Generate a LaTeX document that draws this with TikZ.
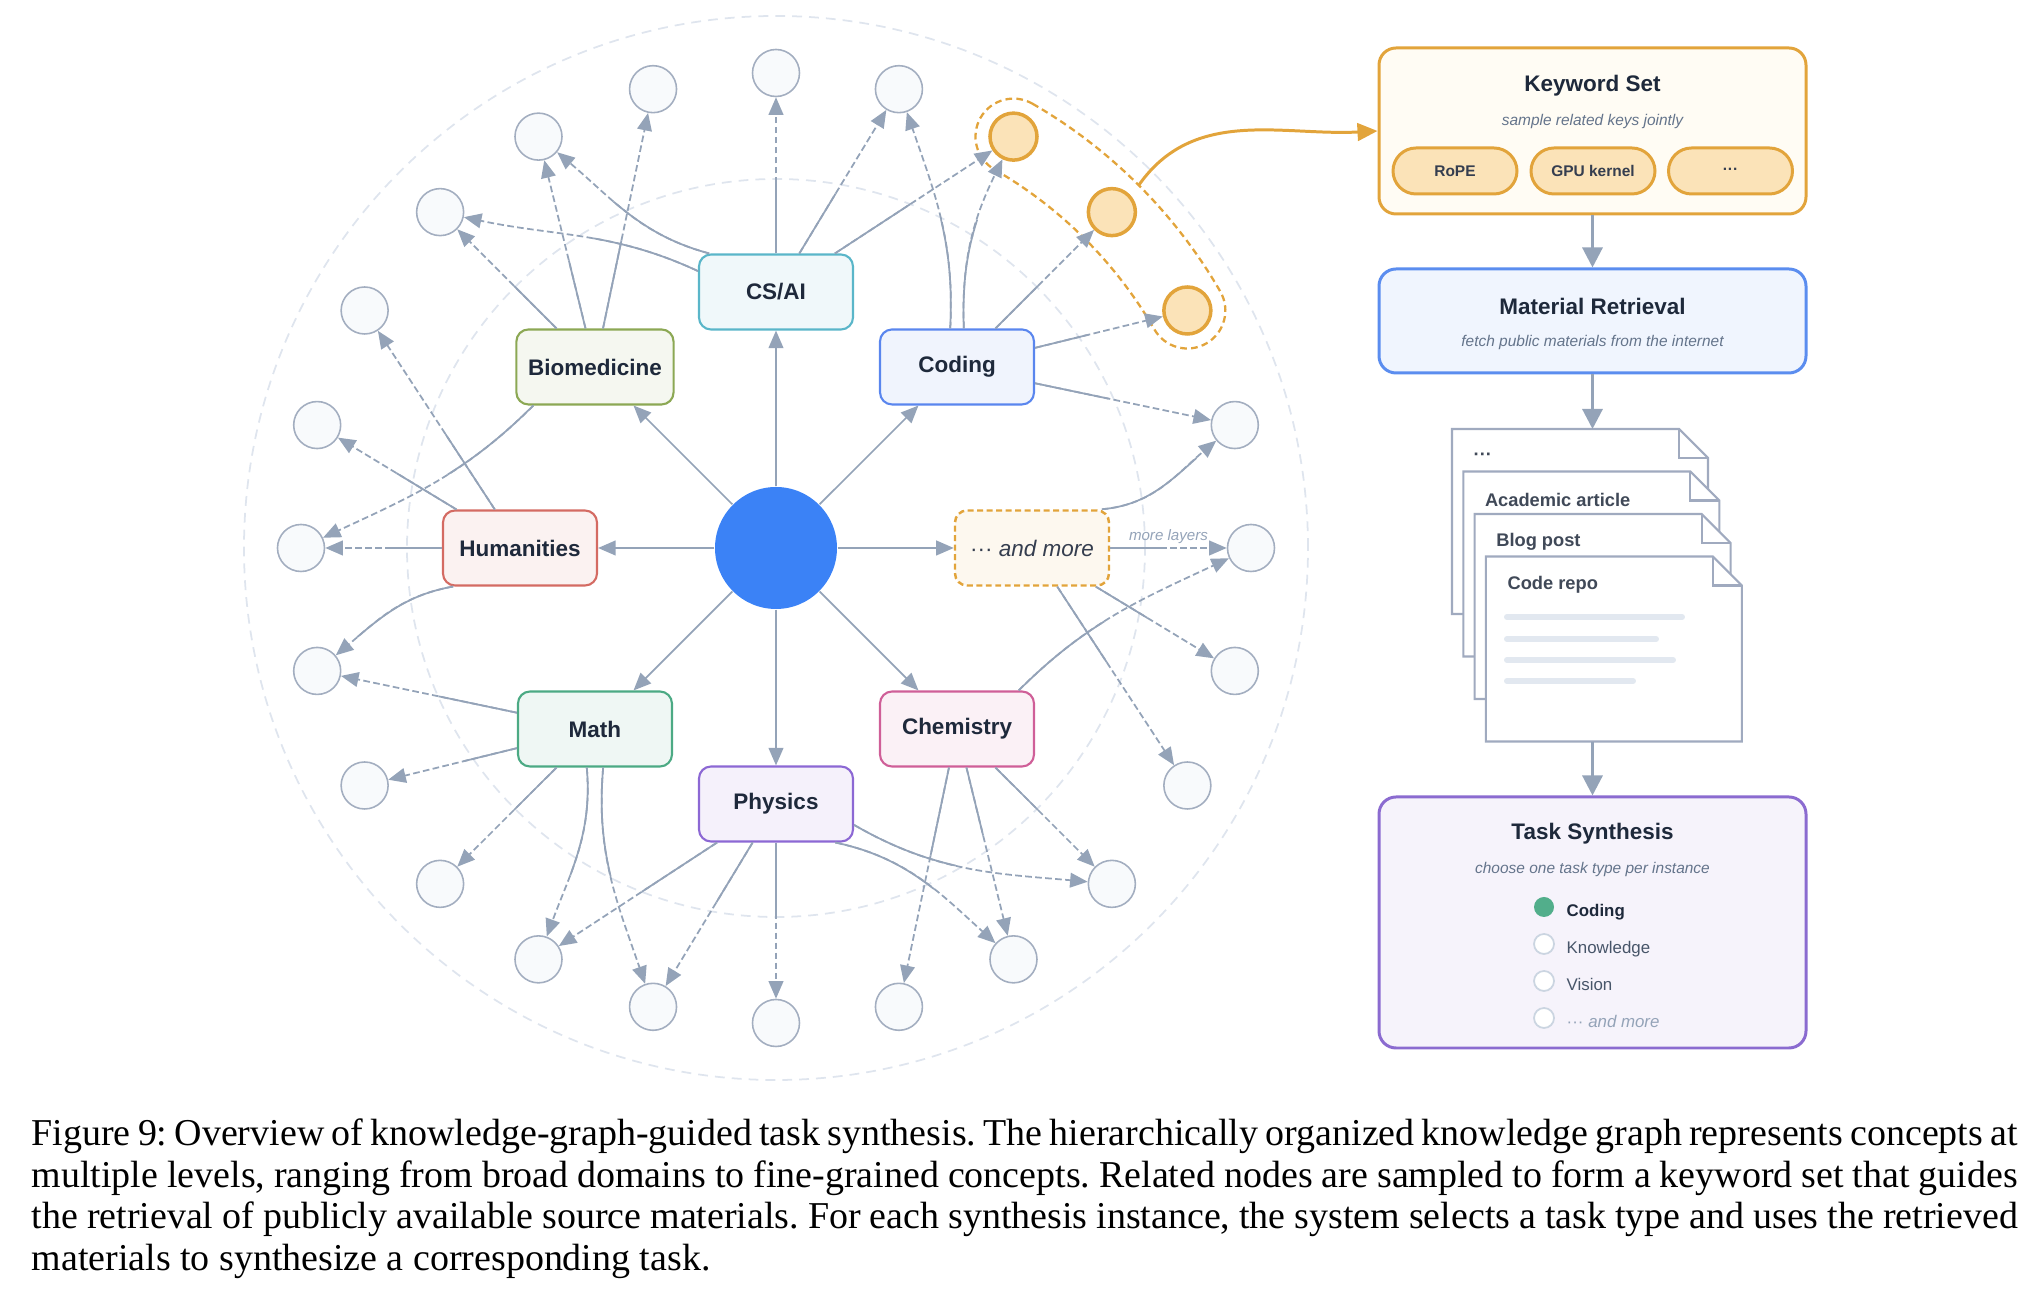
\documentclass[tikz,border=0pt]{standalone}
\usepackage{fontspec}
\setmainfont{Liberation Serif}
\setsansfont{Liberation Sans}
\usepackage{xcolor}
\usepackage{tikz}
\usetikzlibrary{calc, positioning, arrows.meta}
\definecolor{Ink}{HTML}{1E293B}
\definecolor{Slate}{HTML}{94A3B8}
\definecolor{SubGray}{HTML}{64748B}
\definecolor{LeafLine}{HTML}{A3AEC0}
\definecolor{LeafFill}{HTML}{F8FAFC}
\definecolor{Guide}{HTML}{DFE5EE}
\definecolor{HubBlue}{HTML}{3B82F6}
\definecolor{Amber}{HTML}{E2A43B}
\definecolor{AmberFill}{HTML}{FBE3B8}
\definecolor{Cream}{HTML}{FFFCF4}
\definecolor{CsCyan}{HTML}{5AB6C9}
\definecolor{BioOlive}{HTML}{8CA854}
\definecolor{CodeBlue}{HTML}{5A86EE}
\definecolor{HumRed}{HTML}{D46B63}
\definecolor{MathGreen}{HTML}{4CAA84}
\definecolor{ChemPink}{HTML}{CF5F98}
\definecolor{PhysViolet}{HTML}{8C68D4}
\definecolor{RetrBlue}{HTML}{5B8DEF}
\definecolor{TaskViolet}{HTML}{8B6BD0}
\definecolor{PageLine}{HTML}{A0AABF}
\definecolor{TextBar}{HTML}{E2E8F0}
\definecolor{CheckGreen}{HTML}{52AE8B}
\definecolor{RadioLine}{HTML}{CBD5E1}
\definecolor{OptGray}{HTML}{475569}
\frenchspacing

\begin{document}
\begin{tikzpicture}[
        guide/.style={draw=Guide, line width=0.5pt, dash pattern=on 2.8pt off 2pt},
        field/.style={draw=#1, fill=#1!9, line width=0.6pt, rounded corners=0.12cm,
                    minimum width=1.54cm, minimum height=0.75cm, text=Ink,
                    font=\sffamily\bfseries\fontsize{6.4}{7.7}\selectfont},
        leaf/.style={circle, draw=LeafLine, fill=LeafFill, line width=0.45pt, minimum size=0.47cm, inner sep=0pt},
        hotleaf/.style={leaf, draw=Amber, fill=AmberFill, line width=1pt},
        trunk/.style={draw=Slate, line width=0.5pt, -{Triangle[length=5pt, width=4.2pt]}},
        link/.style={trunk, dash pattern=on 1.9pt off 0.95pt,
                    postaction={draw=Slate, -, dash pattern=on #1 off 40cm}},
        link/.default=0.7cm,
        layerlbl/.style={above, inner sep=1pt, text=Slate, font=\sffamily\itshape\fontsize{4.3}{5}\selectfont},
        capsule/.style={draw=Amber, line width=0.65pt, dash pattern=on 1.9pt off 1.2pt},
        pick/.style={draw=Amber, line width=0.85pt, -{Triangle[length=5.7pt, width=5pt]}},
        panel/.style={draw=#1, line width=0.85pt, rounded corners=0.17cm, minimum width=4.27cm},
        ptitle/.style={inner sep=0pt, text=Ink, font=\sffamily\bfseries\fontsize{6.4}{7.7}\selectfont},
        psub/.style={inner sep=0pt, text=SubGray, font=\sffamily\itshape\fontsize{4.4}{5.3}\selectfont},
        pill/.style={draw=Amber, fill=AmberFill, line width=0.85pt, rounded corners=0.23cm,
                    minimum width=1.24cm, minimum height=0.46cm, text=Ink!90,
                    font=\sffamily\bfseries\fontsize{4.4}{5.3}\selectfont},
        flow/.style={draw=Slate, line width=0.9pt, -{Triangle[length=5.7pt, width=5.7pt]}},
        sheet/.style={draw=PageLine, fill=white, line width=0.6pt},
        doctext/.style={anchor=west, inner sep=0pt, text=Ink!85, font=\sffamily\bfseries\fontsize{5.2}{6.2}\selectfont},
        textbar/.style={draw=TextBar, line width=1.7pt, line cap=round},
        radio/.style={circle, draw=RadioLine, fill=white, line width=0.5pt, minimum size=0.2cm, inner sep=0pt},
        opt/.style={anchor=west, inner sep=0pt, text height=1.6ex, text depth=0.4ex, text=OptGray,
                    font=\sffamily\fontsize{4.8}{5.8}\selectfont},
        captext/.style={text width=19.86cm, align=justify, inner sep=0pt, font=\fontsize{10.8}{11.84}\selectfont}]
        \useasboundingbox (-7.76,-7.46) rectangle (12.62,5.48);

        \draw[guide] (0,0) circle[radius=5.32];
        \draw[guide] (0,0) circle[radius=3.69];

        \node[circle, fill=HubBlue, minimum size=1.22cm, inner sep=0pt] (hub) at (0,0) {};
        \node[field=CsCyan]     (csai)   at (90:2.56)  {CS/AI};
        \node[field=BioOlive]   (bio)    at (135:2.56) {Biomedicine};
        \node[field=CodeBlue]   (coding) at (45:2.56)  {Coding};
        \node[field=HumRed]     (hum)    at (180:2.56) {Humanities};
        \node[field=MathGreen]  (math)   at (225:2.56) {Math};
        \node[field=ChemPink]   (chem)   at (315:2.56) {Chemistry};
        \node[field=PhysViolet] (phys)   at (270:2.56) {Physics};
        \node[field=Amber, fill=Amber!8, dash pattern=on 1.7pt off 1pt, line width=0.7pt,
              font=\sffamily\fontsize{6.4}{7.7}\selectfont, text=Ink!90] (more) at (0:2.56)
              {··· \itshape and more};

        \foreach \a in {0,15,75,90,...,345}
          \node[leaf] (l\a) at (\a:4.75) {};
        \foreach \a in {30,45,60}
          \node[hotleaf] (l\a) at (\a:4.75) {};

        \draw[capsule] (60:5.13) arc[start angle=60, end angle=30, radius=5.13]
              arc[start angle=30, end angle=-150, radius=0.38]
              arc[start angle=30, end angle=60, radius=4.37]
              arc[start angle=-120, end angle=-300, radius=0.38] -- cycle;

        \foreach \d in {csai, bio, coding, hum, more, math, chem, phys}
          \draw[trunk] (hub) -- (\d);

        \draw[link] (csai) -- (l90);
        \draw[link] (csai) -- (l75);
        \draw[link=0.9cm] (csai) -- (l60);
        \draw[link=1.1cm] (csai.165) to[out=155, in=-12] (l135);
        \draw[link=1.1cm] (csai.150) to[out=165, in=-40] (l120);

        \draw[link=0.6cm] (bio) -- (l135);
        \draw[link] (bio) -- (l120);
        \draw[link=0.9cm] (bio) -- (l105);
        \draw[link=1.1cm] (bio.212) to[out=225, in=25] (l180);

        \draw[link=0.5cm] (hum) -- (l180);
        \draw[link] (hum) -- (l165);
        \draw[link=0.9cm] (hum) -- (l150);
        \draw[link=1.1cm] (hum.210) to[out=190, in=40] (l195);

        \draw[link=0.8cm] (math) -- (l195);
        \draw[link=0.55cm] (math) -- (l210);
        \draw[link=0.6cm] (math) -- (l225);
        \draw[link=1.1cm] (math.258) to[out=-85, in=70] (l240);
        \draw[link=1.1cm] (math.282) to[out=-95, in=109] (l255);

        \draw[link] (phys) -- (l270);
        \draw[link] (phys) -- (l255);
        \draw[link=0.9cm] (phys) -- (l240);
        \draw[link=1.1cm] (phys.-15) to[out=-30, in=175] (l315);
        \draw[link=1.1cm] (phys.-33) to[out=-12, in=138] (l300);

        \draw[link=0.9cm] (chem) -- (l285);
        \draw[link] (chem) -- (l300);
        \draw[link=0.6cm] (chem) -- (l315);
        \draw[link=1.1cm] (chem.32) to[out=45, in=205] (l0);

        \draw[link=0.5cm] (more) -- node[layerlbl] {more layers} (l0);
        \draw[link=1.1cm] (more.29) to[out=5, in=220] (l15);
        \draw[link=0.6cm] (more) -- (l345);
        \draw[link=0.9cm] (more) -- (l330);

        \draw[link=1.1cm] (coding.100) to[out=87, in=-71] (l75);
        \draw[link=1.1cm] (coding.80) to[out=92, in=-116] (l60);
        \draw[link=0.6cm] (coding) -- (l45);
        \draw[link=0.55cm] (coding) -- (l30);
        \draw[link=0.75cm] (coding) -- (l15);

        \node[panel=Amber, fill=Cream, minimum height=1.66cm] (kw) at (8.165,4.17) {};
        \node[ptitle] (kw-title) at (8.165,4.62) {Keyword Set};
        \node[psub]   (kw-sub)   at (8.165,4.26) {sample related keys jointly};
        \node[pill] (rope) at (6.79,3.77)  {RoPE};
        \node[pill] (gpu)  at (8.17,3.77)  {GPU kernel};
        \node[pill] (etc)  at (9.545,3.77) {···};

        \coordinate (pickup) at (45:5.13);
        \draw[pick] (pickup) to[out=55, in=183] (kw.west);

        \node[panel=RetrBlue, fill=RetrBlue!9, minimum height=1.04cm] (mr) at (8.165,2.27) {};
        \node[ptitle] (mr-title) at (8.165,2.42) {Material Retrieval};
        \node[psub]   (mr-sub)   at (8.165,2.05) {fetch public materials from the internet};
        \draw[flow] (kw) -- (mr);

        \foreach \i/\lbl in {0/···, 1/Academic article, 2/Blog post, 3/Code repo} {
          \begin{scope}[shift={(6.76+0.113*\i,1.19-0.425*\i)}]
            \draw[sheet] (0,0) -- (2.27,0) -- (2.56,-0.29) -- (2.56,-1.85) -- (0,-1.85) -- cycle;
            \draw[sheet, fill=none] (2.27,0) -- (2.27,-0.29) -- (2.56,-0.29);
            \node[doctext] (doc\i) at (0.21,-0.28) {\lbl};
          \end{scope}
        }
        \foreach \dy/\len in {0.60/1.75, 0.82/1.49, 1.03/1.66, 1.24/1.26}
          \draw[textbar] (7.31,-0.09-\dy) -- ++(\len,0);
        \coordinate (docs-in)  at (8.165,1.19);
        \coordinate (docs-out) at (8.165,-1.94);
        \draw[flow] (mr) -- (docs-in);

        \node[panel=TaskViolet, fill=TaskViolet!8, minimum height=2.51cm] (ts) at (8.165,-3.745) {};
        \node[ptitle] (ts-title) at (8.165,-2.86) {Task Synthesis};
        \node[psub]   (ts-sub)   at (8.165,-3.22) {choose one task type per instance};
        \draw[flow] (docs-out) -- (ts);
        \node[radio, fill=CheckGreen, draw=none] (opt1) at (7.68,-3.59) {};
        \node[radio] (opt2) at (7.68,-3.96) {};
        \node[radio] (opt3) at (7.68,-4.33) {};
        \node[radio] (opt4) at (7.68,-4.70) {};
        \node[opt, text=Ink, font=\sffamily\bfseries\fontsize{4.8}{5.8}\selectfont] (opt1-t) at (7.90,-3.59) {Coding};
        \node[opt] (opt2-t) at (7.90,-3.96) {Knowledge};
        \node[opt] (opt3-t) at (7.90,-4.33) {Vision};
        \node[opt, text=Slate] (opt4-t) at (7.90,-4.70) {··· \itshape and more};

        \node[captext, anchor=north west] (cap) at (-7.45,-5.70)
          {Figure 9: Overview of knowledge-graph-guided task synthesis. The hierarchically organized knowledge graph represents concepts at\linebreak
           multiple levels, ranging from broad domains to fine-grained concepts. Related nodes are sampled to form a keyword set that guides\linebreak
           the retrieval of publicly available source materials. For each synthesis instance, the system selects a task type and uses the retrieved\linebreak
           materials to synthesize a corresponding task.};
      \end{tikzpicture}
\end{document}
